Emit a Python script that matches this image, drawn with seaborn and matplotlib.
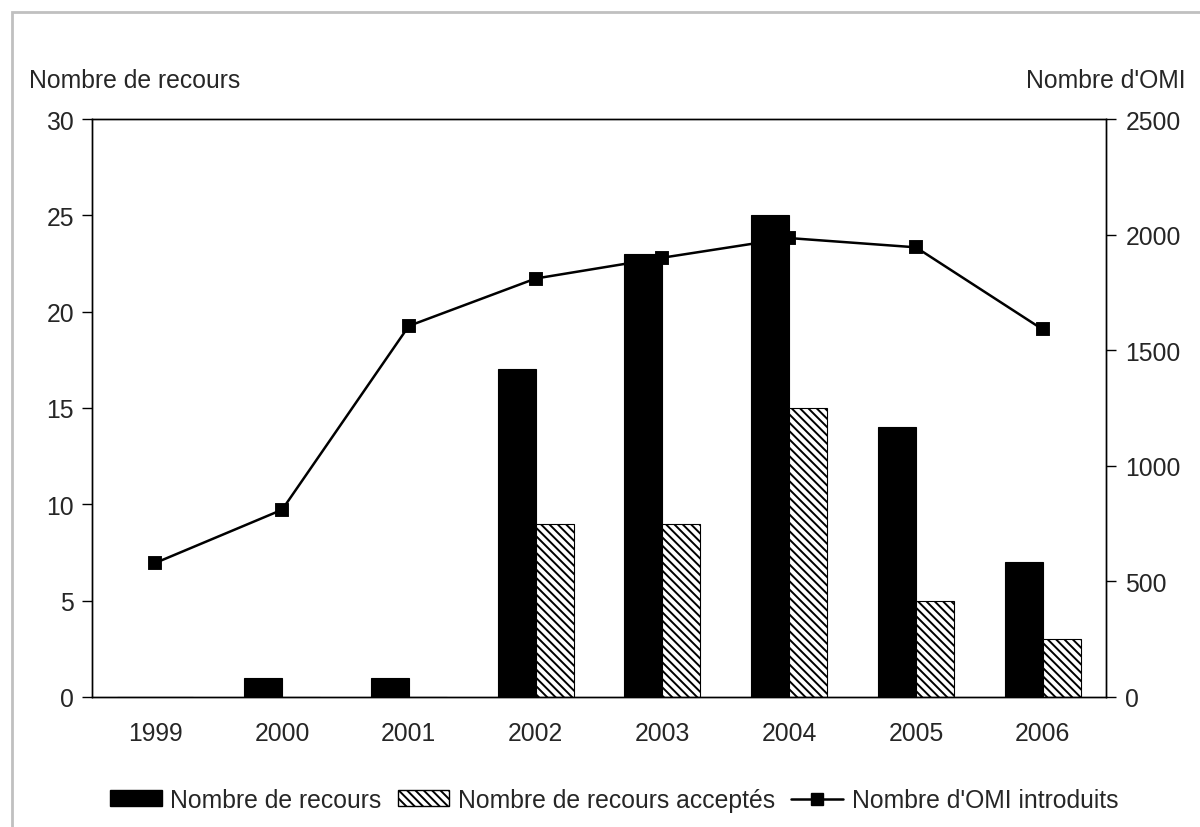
import numpy as np
import pandas as pd
import matplotlib
matplotlib.use("Agg")
import matplotlib.pyplot as plt
import matplotlib.patches as mpatches
from matplotlib.lines import Line2D
import seaborn as sns

# Data
years = ["1999", "2000", "2001", "2002", "2003", "2004", "2005", "2006"]
recours = [0, 1, 1, 17, 23, 25, 14, 7]
recours_acceptes = [0, 0, 0, 9, 9, 15, 5, 3]
omi_introduits = [580, 810, 1605, 1810, 1900, 1985, 1945, 1590]

lab_rec = "Nombre de recours"
lab_acc = "Nombre de recours acceptés"
lab_omi = "Nombre d'OMI introduits"

bars = pd.DataFrame({
    "Année": years * 2,
    "Valeur": recours + recours_acceptes,
    "Série": [lab_rec] * len(years) + [lab_acc] * len(years),
})
omi = pd.DataFrame({"Année": years, "OMI": omi_introduits})

sns.set_style("white")
plt.rcParams["font.family"] = ["Liberation Sans", "DejaVu Sans"]
plt.rcParams["hatch.linewidth"] = 1.4
plt.rcParams["hatch.color"] = "black"
FS = 17.8

fig = plt.figure(figsize=(12, 8.28), dpi=100)
ax = fig.add_axes([92 / 1200, 1 - 698 / 828, (1106 - 92) / 1200, (698 - 120) / 828])

sns.barplot(data=bars, x="Année", y="Valeur", hue="Série",
            hue_order=[lab_rec, lab_acc], palette=["black", "white"],
            width=0.6, edgecolor="black", linewidth=0.8, saturation=1,
            ax=ax, legend=False)
HATCH = "\\\\\\\\"
for p in ax.containers[1].patches:
    p.set_hatch(HATCH)

ax2 = ax.twinx()
sns.pointplot(data=omi, x="Année", y="OMI", ax=ax2, color="black",
              marker="s", markersize=8.5, linewidth=1.8, errorbar=None)

# Axis ranges and ticks
ax.set_ylim(0, 30)
ax.set_yticks(np.arange(0, 31, 5))
ax2.set_ylim(0, 2500)
ax2.set_yticks(np.arange(0, 2501, 500))
ax.set_xlim(-0.5, len(years) - 0.5)

ax.set_xticks(np.arange(-0.5, len(years), 1))
ax.set_xticklabels([""] * (len(years) + 1))
ax.set_xticks(np.arange(len(years)), minor=True)
ax.set_xticklabels(years, minor=True)
ax.tick_params(axis="x", which="major", direction="inout", length=16, width=1, color="black")
ax.tick_params(axis="x", which="minor", length=0, pad=17, labelsize=FS)
ax.tick_params(axis="y", direction="out", length=7, width=1, pad=6,
               labelsize=FS, left=True, right=False, color="black")
ax2.tick_params(axis="y", direction="out", length=7, width=1, pad=7,
                labelsize=FS, right=True, color="black")

for a in (ax, ax2):
    a.set_xlabel("")
    a.set_ylabel("")
    for s in a.spines.values():
        s.set_visible(True)
        s.set_color("black")
        s.set_linewidth(1)

# Axis titles
fig.text(29 / 1200, 1 - 81 / 828, "Nombre de recours", ha="left", va="center", fontsize=FS)
fig.text(1186 / 1200, 1 - 81 / 828, "Nombre d'OMI", ha="right", va="center", fontsize=FS)

# Legend
handles = [
    mpatches.Patch(facecolor="black", edgecolor="black", label=lab_rec),
    mpatches.Patch(facecolor="white", edgecolor="black", hatch=HATCH, label=lab_acc),
    Line2D([0], [0], color="black", lw=1.8, marker="s", markersize=8.5, label=lab_omi),
]
fig.legend(handles=handles, loc="center", bbox_to_anchor=(614 / 1200, 1 - 801 / 828),
           ncol=3, frameon=False, fontsize=FS, handlelength=2.1, handleheight=0.62,
           handletextpad=0.35, columnspacing=0.65, borderpad=0)

# Outer frame
fig.patches.append(mpatches.Rectangle((12 / 1200, -0.1), 1.2, 1.1 - 13 / 828,
                                      transform=fig.transFigure, fill=False,
                                      edgecolor="#c0c0c0", linewidth=2))

fig.savefig("out.png", dpi=100)
